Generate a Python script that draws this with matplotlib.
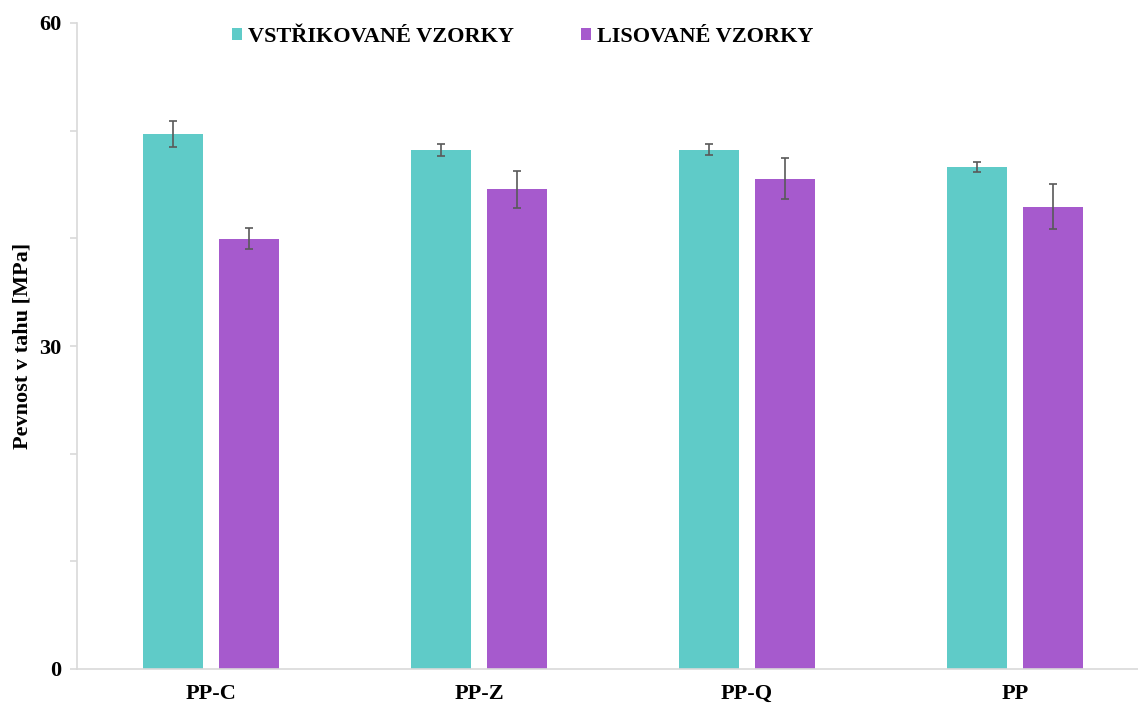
import matplotlib
matplotlib.use("Agg")
import matplotlib.pyplot as plt
from matplotlib.patches import Patch
import numpy as np

categories = ["PP-C", "PP-Z", "PP-Q", "PP"]
injected = [49.7, 48.2, 48.25, 46.6]
injected_err = [1.23, 0.57, 0.5, 0.47]
pressed = [39.95, 44.55, 45.55, 42.95]
pressed_err = [0.97, 1.73, 1.9, 2.1]
series_names = ["VSTŘIKOVANÉ VZORKY", "LISOVANÉ VZORKY"]
yticks_major = [0, 30, 60]

teal = "#5FCBC8"
purple = "#A65ACD"
grey = "#D9D9D9"

plt.rcParams["font.family"] = ["Liberation Serif", "DejaVu Serif"]
plt.rcParams["font.weight"] = "bold"
FS = 16

W, H = 1138, 708
fig = plt.figure(figsize=(W / 100, H / 100), dpi=100)
left, right, top, bottom = 77, 1149, 23, 669
ax = fig.add_axes([left / W, 1 - bottom / H, (right - left) / W, (bottom - top) / H])

x = np.arange(len(categories))
bw = 0.224
off = 0.142
ekw = dict(ecolor="#595959", elinewidth=1.2, capsize=2.8, capthick=1.2)
ax.bar(x - off, injected, bw, color=teal, yerr=injected_err, error_kw=ekw)
ax.bar(x + off, pressed, bw, color=purple, yerr=pressed_err, error_kw=ekw)

ax.set_xlim(-0.5, len(categories) - 0.5)
ax.set_ylim(0, 60)
ax.set_yticks(yticks_major)
ax.set_yticks([10, 20, 40, 50], minor=True)
ax.set_xticks(x)
ax.set_xticklabels(categories, fontsize=FS, fontweight="bold")
ax.tick_params(axis="x", length=0, pad=11)
ax.tick_params(axis="y", which="both", length=5, color=grey, width=1.2, labelsize=FS, pad=6)
for lbl in ax.get_yticklabels():
    lbl.set_fontweight("bold")

for s in ["top", "right"]:
    ax.spines[s].set_visible(False)
for s in ["left", "bottom"]:
    ax.spines[s].set_color(grey)
    ax.spines[s].set_linewidth(1.2)

ax.set_ylabel("Pevnost v tahu [MPa]", fontsize=FS, fontweight="bold")
ax.yaxis.set_label_coords(-44 / (right - left), 0.5)

handles = [Patch(facecolor=teal), Patch(facecolor=purple)]
leg = fig.legend(handles, series_names, ncol=2, loc="center left",
                 bbox_to_anchor=(232 / W, 1 - 37 / H), frameon=False,
                 prop=dict(size=FS, weight="bold"), borderpad=0, borderaxespad=0,
                 handlelength=0.47, handleheight=0.47, handletextpad=0.27,
                 columnspacing=3.0)

fig.savefig("out.png", dpi=100)
